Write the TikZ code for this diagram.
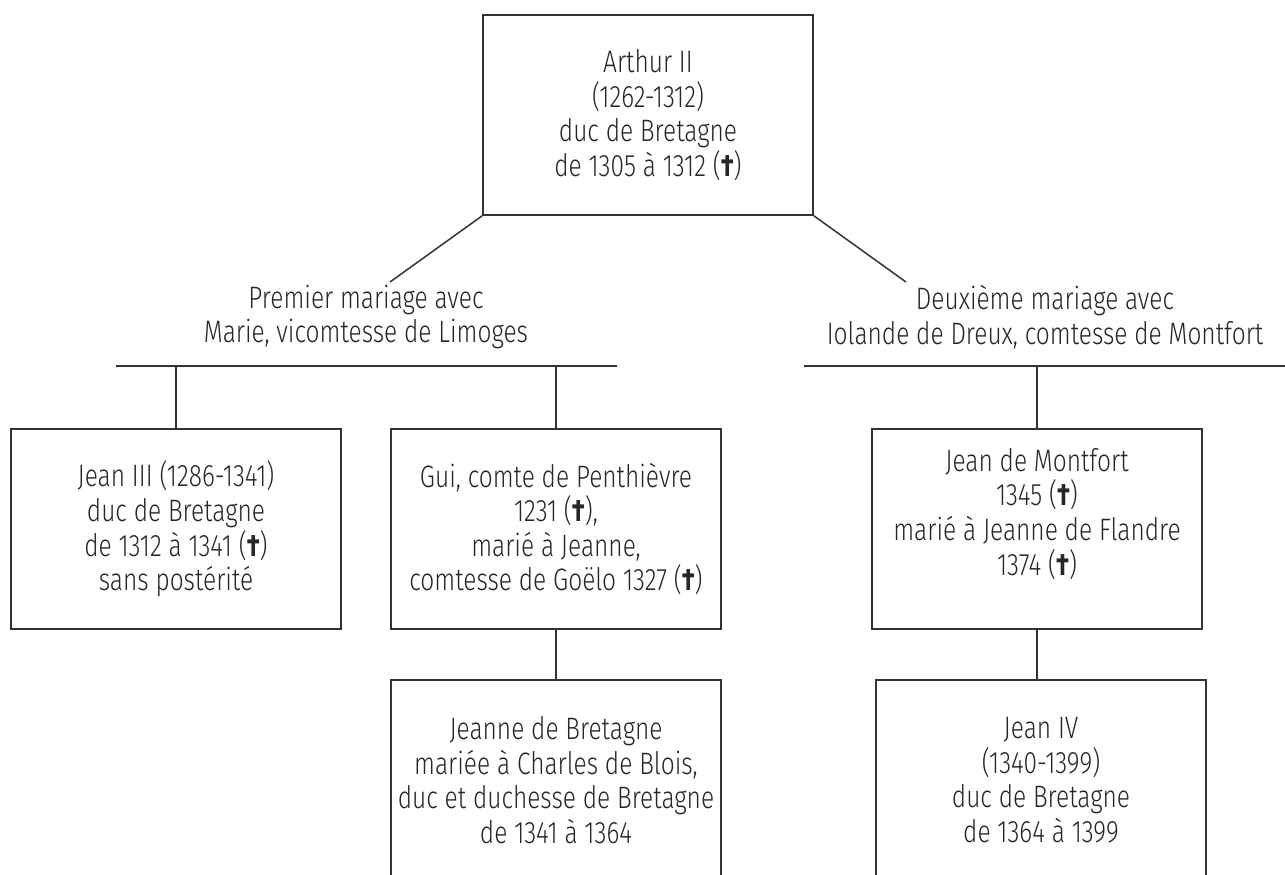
\documentclass[tikz,border=0pt]{standalone}
\usepackage{fontspec}
\setmainfont{Fira Sans Light}[FakeStretch=0.79]
\newfontfamily\croixfont{Fira Sans}[FakeStretch=0.79]
\newcommand{\croix}{{\croixfont\bfseries †}}

\begin{document}
\begin{tikzpicture}[x=0.5pt, y=-0.5pt,
  personne/.style={draw=black!80, line width=0.75pt, minimum width=165pt, minimum height=100pt,
    align=center, inner sep=0pt, text=black!85, font=\fontsize{15.5}{17.3}\selectfont},
  mariage/.style={align=center, inner sep=0pt, text=black!85, font=\fontsize{15.5}{17.3}\selectfont},
  trait/.style={draw=black!80, line width=0.75pt}]
\useasboundingbox (0,0) rectangle (1285,874);
% personnes
\node[personne] (arthur) at (648,115) {Arthur II\\(1262-1312)\\duc de Bretagne\\de 1305 à 1312 (\croix)};
\node[personne] (jean3) at (176,529) {Jean III (1286-1341)\\duc de Bretagne\\de 1312 à 1341 (\croix)\\sans postérité};
\node[personne] (gui) at (556,529) {Gui, comte de Penthièvre\\1231 (\croix),\\marié à Jeanne,\\comtesse de Goëlo 1327 (\croix)};
\node[personne] (montfort) at (1037,529) {Jean de Montfort\\1345 (\croix)\\marié à Jeanne de Flandre\\1374 (\croix)\\ \mbox{}};
\node[personne] (jeanne) at (556,780) {Jeanne de Bretagne\\mariée à Charles de Blois,\\duc et duchesse de Bretagne\\de 1341 à 1364};
\node[personne] (jean4) at (1041,780) {Jean IV\\(1340-1399)\\duc de Bretagne\\de 1364 à 1399};
% mariages
\node[mariage] (mar1) at (366,317) {Premier mariage avec\\Marie, vicomtesse de Limoges};
\node[mariage] (mar2) at (1045,317) {Deuxième mariage avec\\Iolande de Dreux, comtesse de Montfort};
\coordinate (m1) at (390,282);
\coordinate (m2) at (906,282);
\coordinate (b1w) at (116,366);
\coordinate (b1e) at (617,366);
\coordinate (b2w) at (804,366);
\coordinate (b2e) at (1285,366);
% traits
\draw[trait] (arthur.south west) -- (m1);
\draw[trait] (arthur.south east) -- (m2);
\draw[trait] (b1w) -- (b1e);
\draw[trait] (b2w) -- (b2e);
\draw[trait] (jean3.north) -- (jean3.north |- b1w);
\draw[trait] (gui.north) -- (gui.north |- b1w);
\draw[trait] (montfort.north) -- (montfort.north |- b2w);
\draw[trait] (gui.south) -- (jeanne.north);
\draw[trait] (montfort.south) -- (montfort.south |- jean4.north);
\end{tikzpicture}
\end{document}
